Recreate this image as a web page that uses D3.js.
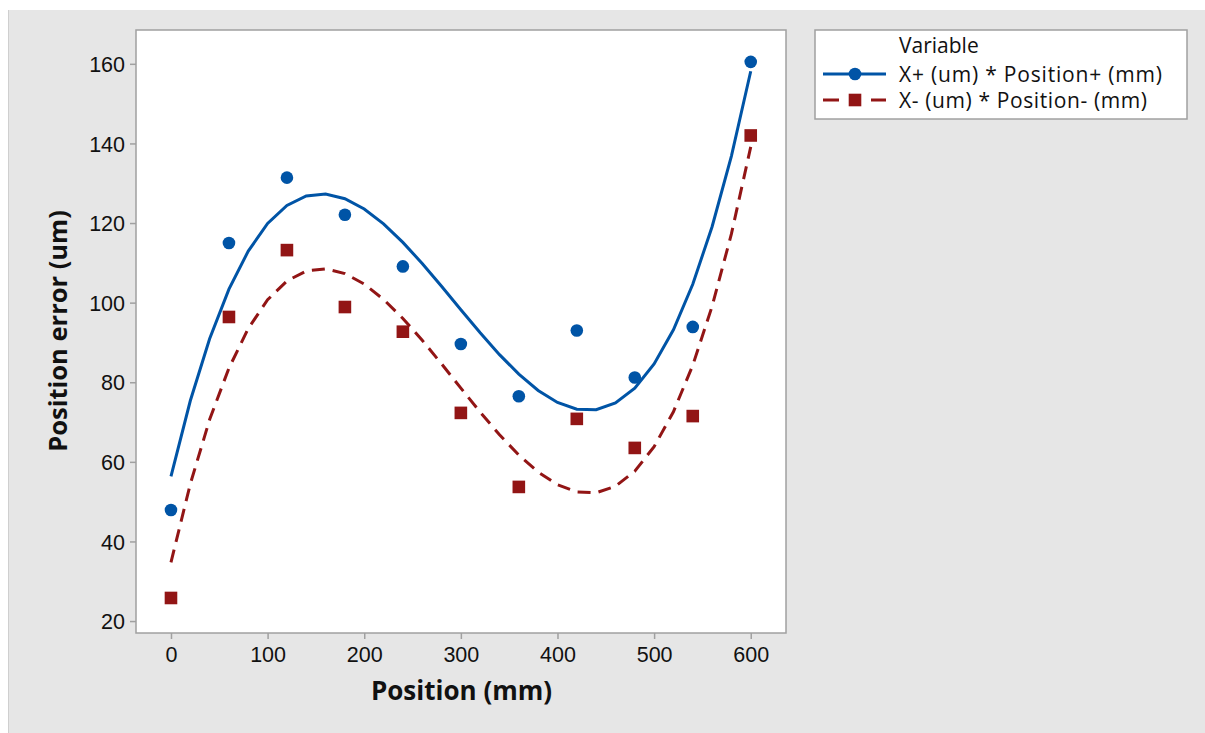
<!DOCTYPE html>
<html>
<head>
<meta charset="utf-8">
<script src="https://cdn.jsdelivr.net/npm/d3@7"></script>
<style>
  body { margin: 0; background: #fff; }
  svg { display: block; font-family: "Open Sans", "Noto Sans", sans-serif; }
  .tick text { font-size: 21.5px; fill: #111; }
</style>
</head>
<body>
<svg id="chart" width="1205" height="733"></svg>
<script>
// positions along the axis (mm)
const positions = [0, 60, 120, 180, 240, 300, 360, 420, 480, 540, 600];
// X+ error (um)
const errorPlus = [47.9, 115.0, 131.4, 122.1, 109.1, 89.6, 76.5, 93.0, 81.2, 93.9, 160.5];
// X- error (um)
const errorMinus = [25.8, 96.4, 113.2, 98.9, 92.7, 72.3, 53.7, 70.8, 63.5, 71.5, 142.0];

const xTicks = [0, 100, 200, 300, 400, 500, 600];
const yTicks = [20, 40, 60, 80, 100, 120, 140, 160];
const seriesNames = ["X+ (um) * Position+ (mm)", "X- (um) * Position- (mm)"];

const blue = "#0054a6";
const red = "#921515";

const svg = d3.select("#chart");

// gray backdrop like the minitab graph window
svg.append("rect")
  .attr("x", 8).attr("y", 10)
  .attr("width", 1205 - 8).attr("height", 733 - 10)
  .attr("fill", "#e6e6e6");
svg.append("line")
  .attr("x1", 8.5).attr("x2", 8.5).attr("y1", 10).attr("y2", 733)
  .attr("stroke", "#cfcfcf").attr("stroke-width", 1);

const plot = { left: 136, top: 30, right: 786, bottom: 633 };

const x = d3.scaleLinear().domain([-36.2, 636.5]).range([plot.left, plot.right]);
const y = d3.scaleLinear().domain([17, 168.5]).range([plot.bottom, plot.top]);

svg.append("rect")
  .attr("x", plot.left).attr("y", plot.top)
  .attr("width", plot.right - plot.left).attr("height", plot.bottom - plot.top)
  .attr("fill", "#fff").attr("stroke", "#a0a0a0").attr("stroke-width", 1.5);

// axes
const xAxis = svg.append("g")
  .attr("transform", `translate(0,${plot.bottom})`)
  .call(d3.axisBottom(x).tickValues(xTicks).tickSize(6).tickPadding(5));
const yAxis = svg.append("g")
  .attr("transform", `translate(${plot.left},0)`)
  .call(d3.axisLeft(y).tickValues(yTicks).tickSize(6).tickPadding(5));

[xAxis, yAxis].forEach(g => {
  g.select(".domain").remove();
  g.selectAll(".tick line").attr("stroke", "#a0a0a0").attr("stroke-width", 1.5);
});
xAxis.selectAll(".tick text").attr("dy", "0.85em");
yAxis.selectAll(".tick text").attr("dy", "0.36em");

// axis titles
svg.append("text")
  .attr("x", 461.5).attr("y", 700)
  .attr("text-anchor", "middle")
  .attr("font-size", 26).attr("font-weight", "bold").attr("fill", "#111")
  .text("Position (mm)");
svg.append("text")
  .attr("transform", "translate(67,331) rotate(-90)")
  .attr("text-anchor", "middle")
  .attr("font-size", 25.5).attr("font-weight", "bold").attr("fill", "#111")
  .text("Position error (um)");

// least squares cubic fit, same as the regression line in the original graph
function cubicFit(xs, ys) {
  const n = 4;
  const A = Array.from({ length: n }, () => new Array(n + 1).fill(0));
  xs.forEach((xv, i) => {
    const t = xv / 100;
    const p = [1, t, t * t, t * t * t];
    for (let r = 0; r < n; r++) {
      for (let c = 0; c < n; c++) A[r][c] += p[r] * p[c];
      A[r][n] += p[r] * ys[i];
    }
  });
  // gaussian elimination
  for (let c = 0; c < n; c++) {
    let piv = c;
    for (let r = c + 1; r < n; r++) if (Math.abs(A[r][c]) > Math.abs(A[piv][c])) piv = r;
    [A[c], A[piv]] = [A[piv], A[c]];
    for (let r = 0; r < n; r++) {
      if (r === c) continue;
      const f = A[r][c] / A[c][c];
      for (let k = c; k <= n; k++) A[r][k] -= f * A[c][k];
    }
  }
  const coef = A.map((row, i) => row[n] / row[i]);
  return xv => {
    const t = xv / 100;
    return coef[0] + coef[1] * t + coef[2] * t * t + coef[3] * t * t * t;
  };
}

const fitX = d3.range(0, 601, 20);
const line = d3.line().x(d => x(d[0])).y(d => y(d[1]));

const series = [
  { values: errorPlus, color: blue, dash: null, shape: "circle" },
  { values: errorMinus, color: red, dash: "13,8", shape: "square" }
];

series.forEach(s => {
  const f = cubicFit(positions, s.values);
  svg.append("path")
    .datum(fitX.map(v => [v, f(v)]))
    .attr("d", line)
    .attr("fill", "none")
    .attr("stroke", s.color)
    .attr("stroke-width", 3)
    .attr("stroke-dasharray", s.dash);
});

function drawMarker(g, shape, cx, cy, color) {
  if (shape === "circle") {
    g.append("circle").attr("cx", cx).attr("cy", cy).attr("r", 6.3).attr("fill", color);
  } else {
    g.append("rect").attr("x", cx - 6.3).attr("y", cy - 6.3)
      .attr("width", 12.6).attr("height", 12.6).attr("fill", color);
  }
}

const marks = svg.append("g");
series.forEach(s => {
  positions.forEach((p, i) => drawMarker(marks, s.shape, x(p), y(s.values[i]), s.color));
});

// legend
const lg = svg.append("g");
lg.append("rect")
  .attr("x", 815).attr("y", 30).attr("width", 372).attr("height", 89)
  .attr("fill", "#fff").attr("stroke", "#a0a0a0").attr("stroke-width", 1.5);
lg.append("text")
  .attr("x", 899).attr("y", 53)
  .attr("font-size", 21).attr("font-weight", 500).attr("fill", "#111")
  .text("Variable");

series.forEach((s, i) => {
  const cy = 74 + i * 26;
  lg.append("line")
    .attr("x1", 823).attr("x2", 886).attr("y1", cy).attr("y2", cy)
    .attr("stroke", s.color).attr("stroke-width", 3)
    .attr("stroke-dasharray", s.dash ? "16,11,10,11,16" : null);
  drawMarker(lg, s.shape, 855, cy, s.color);
  lg.append("text")
    .attr("x", 899).attr("y", cy)
    .attr("dy", "0.36em")
    .attr("font-size", 21).attr("fill", "#111")
    .attr("textLength", i === 0 ? 263 : 248).attr("lengthAdjust", "spacing")
    .text(seriesNames[i]);
});
</script>
</body>
</html>
